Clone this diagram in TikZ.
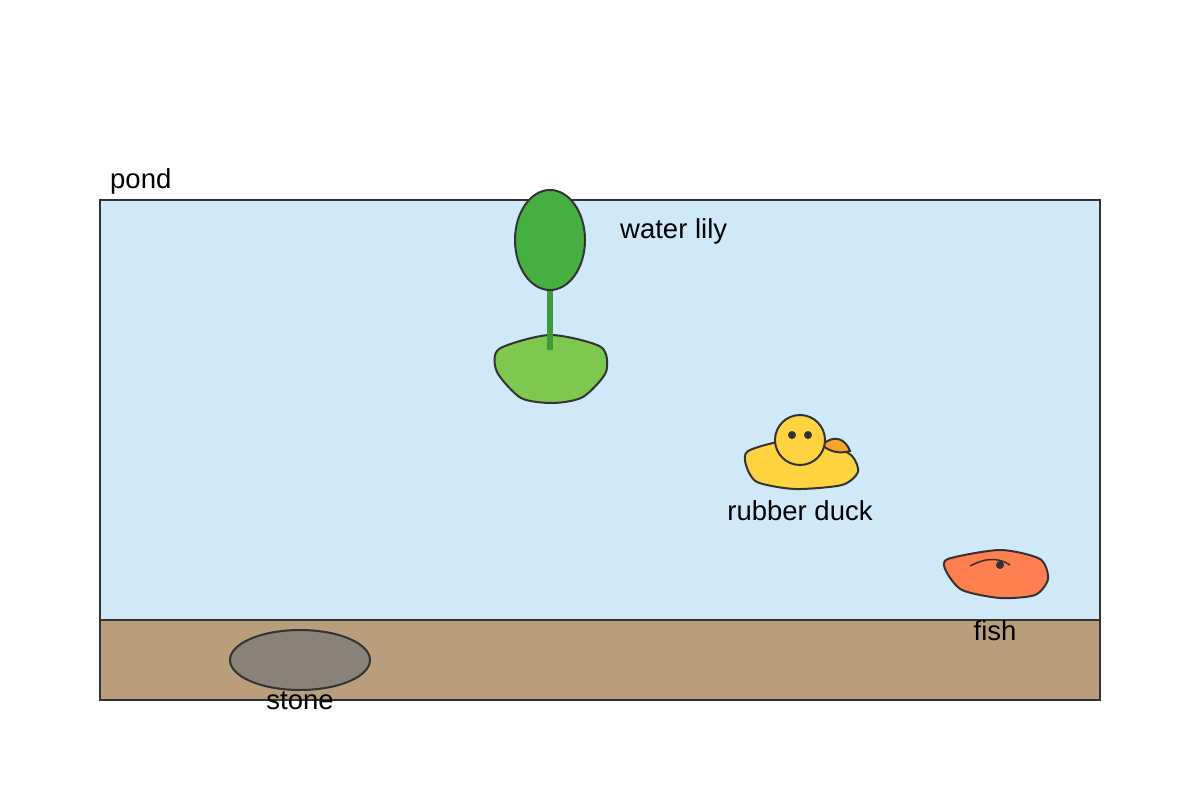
\documentclass[tikz,border=0pt]{standalone}
\usepackage{fontspec}
\setmainfont{Liberation Sans}
\begin{document}
\begin{tikzpicture}[x=1pt,y=-1pt,
    outline/.style={draw=black!80, line width=2pt},
    label/.style={font=\fontsize{27.5}{32}\selectfont, inner sep=0pt}]
    \definecolor{water}{HTML}{D0E9F9}
    \definecolor{mud}{HTML}{B89E7C}
    \definecolor{rock}{HTML}{8A8178}
    \definecolor{leaf}{HTML}{45B03F}
    \definecolor{pad}{HTML}{7EC850}
    \definecolor{stem}{HTML}{3F9B3A}
    \definecolor{duck}{HTML}{FFD23F}
    \definecolor{beak}{HTML}{F7A428}
    \definecolor{fishc}{HTML}{FF7F50}
    \useasboundingbox (0,0) rectangle (1200,800);

    % pond and ground
    \fill[water] (100,200) rectangle (1100,620);
    \fill[mud] (100,620) rectangle (1100,700);
    \draw[outline, line width=2.5pt] (100,200) rectangle (1100,700);
    \draw[outline, line width=2.5pt] (100,620) -- (1100,620);
    \node[label, anchor=west] (pond) at (110,181) {pond};

    % stone
    \draw[outline, fill=rock] (300,660) ellipse [x radius=70, y radius=30];
    \node[label] (stone) at (300,701) {stone};

    % water lily
    \draw[outline, fill=pad] plot[smooth cycle, tension=0.45] coordinates
        {(499,349) (550,335) (601,347) (606,372) (583,397) (553,403) (521,398) (497,372)};
    \draw[stem, line width=6pt] (550,285) -- (550,350);
    \draw[outline, fill=leaf] (550,240) ellipse [x radius=35, y radius=50];
    \node[label, anchor=west] (lily) at (620,231) {water lily};

    % rubber duck
    \draw[outline, fill=duck] plot[smooth cycle, tension=0.45] coordinates
        {(748,451) (785,441) (830,445) (852,456) (858,472) (842,485) (795,489) (757,482) (746,465)};
    \draw[outline, fill=beak] (822,445) .. controls (835,433) and (846,440) .. (850,451)
        .. controls (840,454) and (830,452) .. cycle;
    \draw[outline, fill=duck] (800,440) circle [radius=25];
    \fill[black!80] (792,435) circle [radius=4] (808,435) circle [radius=4];
    \node[label] (duck) at (800,511) {rubber duck};

    % fish
    \draw[outline, fill=fishc] plot[smooth cycle, tension=0.45] coordinates
        {(948,559) (1000,550) (1040,559) (1048,579) (1035,595) (1000,598) (962,590) (946,571)};
    \draw[outline, line width=1.5pt] (970,566) .. controls (985,558) and (998,557) .. (1010,565);
    \fill[black!80] (1000,565) circle [radius=4];
    \node[label] (fish) at (995,631) {fish};
\end{tikzpicture}
\end{document}
